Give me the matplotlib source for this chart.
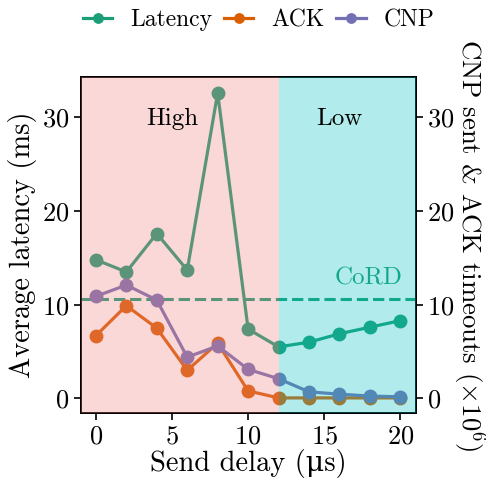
import matplotlib
matplotlib.use("Agg")
import matplotlib.pyplot as plt

plt.rcParams['font.family'] = ['cmr10', 'DejaVu Serif']
plt.rcParams['mathtext.fontset'] = 'cm'
plt.rcParams['axes.formatter.use_mathtext'] = True

delay = [0, 2, 4, 6, 8, 10, 12, 14, 16, 18, 20]
latency = [14.8, 13.5, 17.6, 13.7, 32.6, 7.4, 5.5, 6.0, 6.9, 7.6, 8.3]
ack = [6.7, 9.9, 7.5, 3.0, 5.9, 0.8, 0.05, 0.05, 0.05, 0.05, 0.05]
cnp = [10.9, 12.1, 10.5, 4.4, 5.6, 3.1, 2.1, 0.7, 0.45, 0.25, 0.17]
cord = 10.6
split = 12

GREEN, ORANGE, PURPLE = '#1b9e77', '#d95f02', '#7570b3'

fig = plt.figure(figsize=(4.86, 4.79), dpi=100)
ax = fig.add_axes([0.166, 0.137, 0.689, 0.702])
ax2 = ax.twinx()

l1, = ax.plot(delay, latency, '-o', color=GREEN, lw=2.3, ms=9, zorder=2, label='Latency')
ax.axhline(cord, color=GREEN, lw=2.2, ls='--', zorder=2)
l2, = ax2.plot(delay, ack, '-o', color=ORANGE, lw=2.3, ms=9, zorder=2, label='ACK')
l3, = ax2.plot(delay, cnp, '-o', color=PURPLE, lw=2.3, ms=9, zorder=2, label='CNP')
ax.text(20.15, 11.6, 'CoRD', color=GREEN, fontsize=18, ha='right', va='bottom', zorder=2)

ax.set_xlim(-1, 21)
ax.set_ylim(-1.6, 34.3)
ax2.set_ylim(-1.6, 34.3)

ax2.axvspan(-1, split, color='#f08080', alpha=0.3, lw=0, zorder=5)
ax2.axvspan(split, 21, color='#00c0c0', alpha=0.3, lw=0, zorder=5)

ax2.text(5, 29.2, 'High', fontsize=18, ha='center', va='baseline', zorder=6)
ax2.text(16, 29.2, 'Low', fontsize=18, ha='center', va='baseline', zorder=6)

ax.set_xticks([0, 5, 10, 15, 20])
ax.set_yticks([0, 10, 20, 30])
ax2.set_yticks([0, 10, 20, 30])
for a in (ax, ax2):
    a.tick_params(labelsize=19, width=1.2, length=5, pad=3.5)
    for s in a.spines.values():
        s.set_linewidth(1.3)

ax.set_xlabel('Send delay (μs)', fontsize=20.5, labelpad=0)
ax.set_ylabel('Average latency (ms)', fontsize=20.5, labelpad=3)
ax2.set_ylabel(r'CNP sent & ACK timeouts ($\times 10^6$)', fontsize=19.3, rotation=270,
               va='bottom', labelpad=-2.5)

fig.legend(handles=[l1, l2, l3], loc='upper center', bbox_to_anchor=(0.532, 1.025), ncol=3,
           frameon=False, fontsize=17, handlelength=1.25, columnspacing=0.5, handletextpad=0.75,
           markerscale=0.75)

fig.savefig('out.png', dpi=100)
